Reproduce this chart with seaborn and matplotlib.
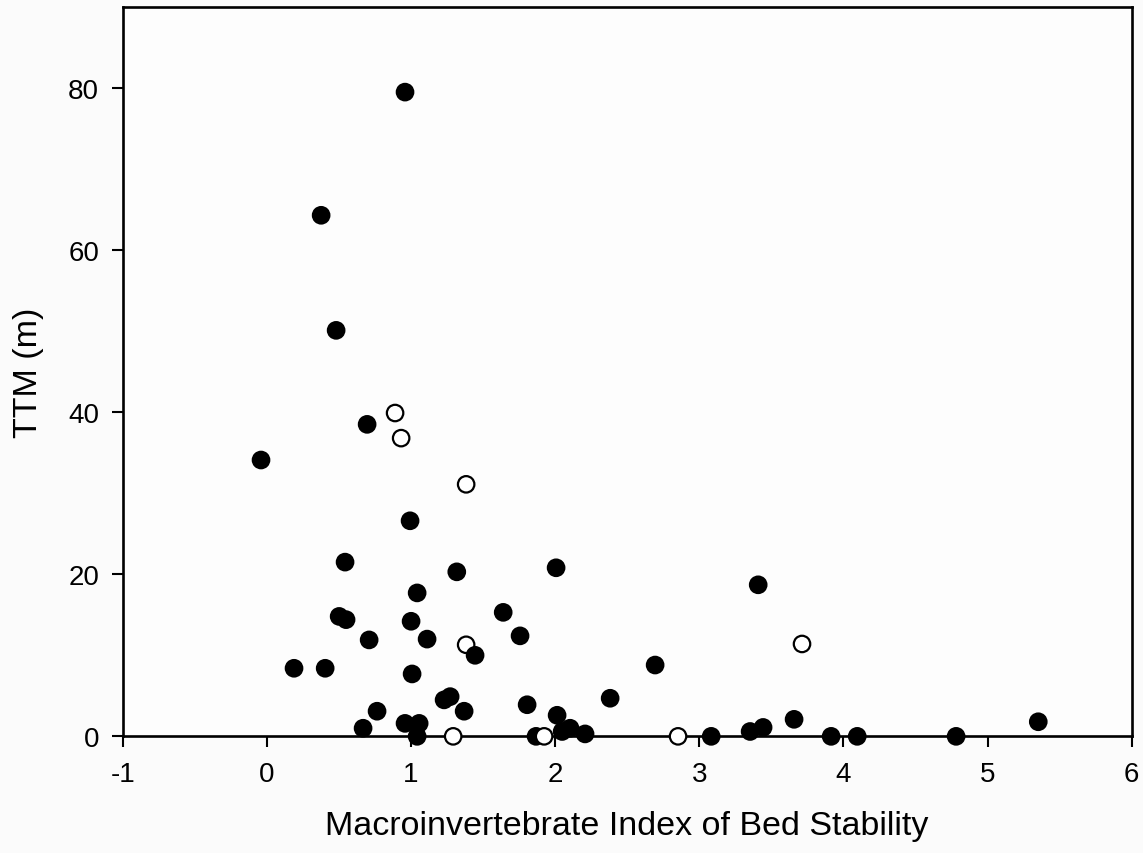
import matplotlib
matplotlib.use("Agg")
import matplotlib.pyplot as plt
import seaborn as sns
import pandas as pd

# Sites with closed symbols
filled_x = [0.959, 0.377, 0.481, 0.696, -0.040, 0.994, 0.543, 2.007, 1.318, 3.409,
            1.043, 1.640, 0.502, 0.550, 1.001, 1.757, 1.112, 0.710, 1.445, 2.694,
            0.189, 0.405, 1.008, 2.382, 1.272, 1.230, 1.806, 0.765, 1.369, 2.014,
            3.658, 5.352, 0.959, 1.057, 0.668, 2.104, 2.049, 2.208, 3.443, 3.353,
            1.043, 1.868, 3.083, 3.915, 4.096, 4.782]
filled_y = [79.5, 64.3, 50.1, 38.5, 34.1, 26.6, 21.5, 20.8, 20.3, 18.7,
            17.7, 15.3, 14.8, 14.4, 14.2, 12.4, 12.0, 11.9, 10.0, 8.8,
            8.4, 8.4, 7.7, 4.7, 4.9, 4.5, 3.9, 3.1, 3.1, 2.6,
            2.1, 1.8, 1.6, 1.6, 1.0, 1.0, 0.6, 0.3, 1.1, 0.6,
            0.0, 0.0, 0.0, 0.0, 0.0, 0.0]

# Sites with open symbols
open_x = [0.890, 0.932, 1.383, 1.383, 3.713, 1.293, 1.924, 2.853]
open_y = [39.9, 36.8, 31.1, 11.3, 11.4, 0.0, 0.0, 0.0]

x_ticks = [-1, 0, 1, 2, 3, 4, 5, 6]
y_ticks = [0, 20, 40, 60, 80]

df = pd.concat([
    pd.DataFrame({"mibs": filled_x, "ttm": filled_y, "kind": "closed"}),
    pd.DataFrame({"mibs": open_x, "ttm": open_y, "kind": "open"}),
]).sort_values("mibs", kind="stable").reset_index(drop=True)

sns.set_style("ticks")
plt.rcParams["font.family"] = ["Liberation Sans", "DejaVu Sans"]
plt.rcParams["text.color"] = "black"
plt.rcParams["axes.labelcolor"] = "black"

fig = plt.figure(figsize=(11.43, 8.54), dpi=100, facecolor="#fbfbfb")
ax = fig.add_axes([0.1073, 0.1366, 0.8828, 0.854])
ax.set_facecolor("#fdfdfd")

sns.scatterplot(data=df, x="mibs", y="ttm", hue="kind",
                palette={"closed": "black", "open": "white"},
                edgecolor="black", linewidth=1.6, s=140,
                legend=False, clip_on=False, zorder=3, ax=ax)

ax.set_xlim(-1, 6)
ax.set_ylim(0, 90)
ax.set_xticks(x_ticks)
ax.set_yticks(y_ticks)
ax.set_xticklabels([str(v) for v in x_ticks])
ax.set_yticklabels([str(v) for v in y_ticks])

for side in ["left", "right", "top", "bottom"]:
    ax.spines[side].set_visible(True)
    ax.spines[side].set_linewidth(1.9)
    ax.spines[side].set_color("black")

ax.tick_params(axis="both", direction="out", length=8, width=1.5,
               colors="black", labelsize=20)
ax.tick_params(axis="x", pad=10)
ax.tick_params(axis="y", pad=9)

ax.set_xlabel("Macroinvertebrate Index of Bed Stability", fontsize=24.5,
              labelpad=16, color="black")
ax.set_ylabel("TTM (m)", fontsize=24.5, labelpad=17, color="black")

fig.savefig("out.png", dpi=100, facecolor=fig.get_facecolor())
